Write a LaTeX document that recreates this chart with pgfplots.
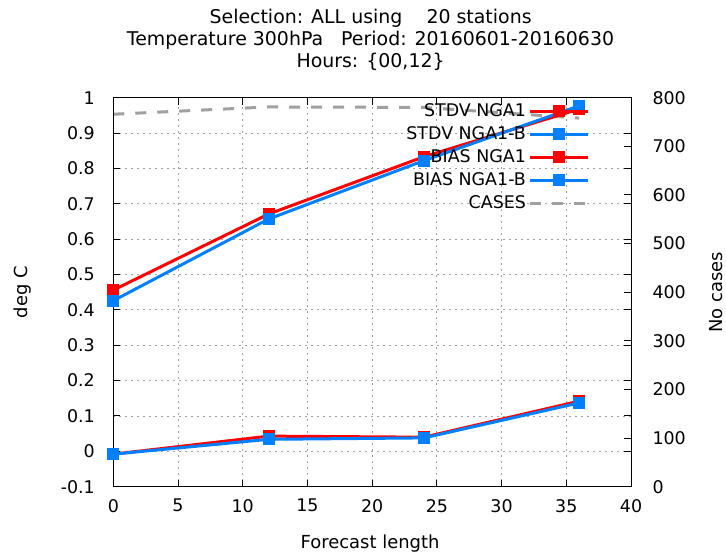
\documentclass[border=0pt]{standalone}
\usepackage{pgfplots}
\pgfplotsset{compat=1.18}
\usepackage{fontspec}
\setmainfont{DejaVu Sans}
\definecolor{gred}{RGB}{255,0,0}
\definecolor{gblue}{RGB}{0,128,255}
\definecolor{ggray}{RGB}{160,160,160}
\definecolor{gridc}{RGB}{160,160,160}
\begin{document}
\begin{tikzpicture}
\path[use as bounding box] (-113.3bp,-68.3bp) rectangle (612.7bp,486.7bp);
% right axis: cases
\begin{axis}[
  at={(0,0)}, anchor=south west,
  scale only axis, width=517.7bp, height=389bp,
  xmin=0, xmax=40, ymin=0, ymax=800,
  axis x line=none, axis y line*=right,
  ytick={0,100,...,800},
  tick align=inside, major tick length=7bp,
  axis line style={black, line width=1bp},
  every tick/.style={black, line width=1bp},
  ticklabel style={font=\fontsize{17.5}{20}\selectfont},
  /pgf/number format/assume math mode=true,
  yticklabel style={xshift=18bp},
  ylabel={No cases},
  every axis y label/.style={at={(axis description cs:1.164,0.5)}, rotate=90, anchor=center, font=\fontsize{18}{21}\selectfont},
]
\addplot[ggray, line width=3bp, dash pattern=on 11bp off 11bp] coordinates {(0,766) (12,781) (24,780) (36,758)};
\end{axis}
% main axis
\begin{axis}[
  at={(0,0)}, anchor=south west,
  scale only axis, width=517.7bp, height=389bp,
  xmin=0, xmax=40, ymin=-0.1, ymax=1,
  xtick={0,5,...,40},
  ytick={-0.1,0,0.1,0.2,0.3,0.4,0.5,0.6,0.7,0.8,0.9,1},
  yticklabels={-0.1,0,0.1,0.2,0.3,0.4,0.5,0.6,0.7,0.8,0.9,1},
  tick align=inside, major tick length=7bp,
  axis line style={black, line width=1bp},
  every tick/.style={black, line width=1bp},
  grid=major,
  major grid style={gridc, line width=0.8bp, dash pattern=on 1.5bp off 4.5bp},
  ticklabel style={font=\fontsize{17.5}{20}\selectfont},
  /pgf/number format/assume math mode=true,
  yticklabel style={xshift=-15bp},
  xticklabel style={yshift=-9bp},
  xlabel={Forecast length},
  ylabel={deg C},
  every axis x label/.style={at={(axis description cs:0.496,-0.145)}, anchor=center, font=\fontsize{18}{21}\selectfont},
  every axis y label/.style={at={(axis description cs:-0.176,0.5)}, rotate=90, anchor=center, font=\fontsize{18}{21}\selectfont},
  title={Selection: ALL using\ \ \ \ 20 stations\\Temperature 300hPa\ \ \ Period: 20160601-20160630\\Hours: \{00,12\}},
  title style={at={(axis description cs:0.497,1.133)}, anchor=center, align=center, font=\fontsize{19}{22}\selectfont},
  legend plot pos=right,
  legend cell align=right,
  legend style={draw=none, fill=none, inner sep=0pt, at={(axis description cs:0.921,0.986)}, anchor=north east,
    font=\fontsize{17.5}{20}\selectfont, row sep=7bp,
    nodes={inner sep=0pt, text height=13bp, text depth=3bp},
    /tikz/every odd column/.style={column sep=3bp}},
  legend image code/.code={\draw[mark repeat=2,mark phase=2,#1] plot coordinates {(0bp,0bp)(29bp,0bp)(58bp,0bp)};},
]
\addplot[gred, line width=3bp, mark=square*, mark size=5.5bp, mark options={solid, line width=1bp}] coordinates {(0,0.456) (12,0.671) (24,0.833) (36,0.968)};
\addlegendentry{STDV NGA1}
\addplot[gblue, line width=3bp, mark=square*, mark size=5.5bp, mark options={solid, line width=1bp}] coordinates {(0,0.426) (12,0.657) (24,0.822) (36,0.977)};
\addlegendentry{STDV NGA1-B}
\addplot[gred, line width=3bp, mark=square*, mark size=5.5bp, mark options={solid, line width=1bp}] coordinates {(0,-0.008) (12,0.043) (24,0.040) (36,0.142)};
\addlegendentry{BIAS NGA1}
\addplot[gblue, line width=3bp, mark=square*, mark size=5.5bp, mark options={solid, line width=1bp}] coordinates {(0,-0.008) (12,0.034) (24,0.038) (36,0.137)};
\addlegendentry{BIAS NGA1-B}
\addlegendimage{ggray, line width=3bp, dash pattern=on 11bp off 11bp}
\addlegendentry{CASES}
\end{axis}
\end{tikzpicture}
\end{document}
